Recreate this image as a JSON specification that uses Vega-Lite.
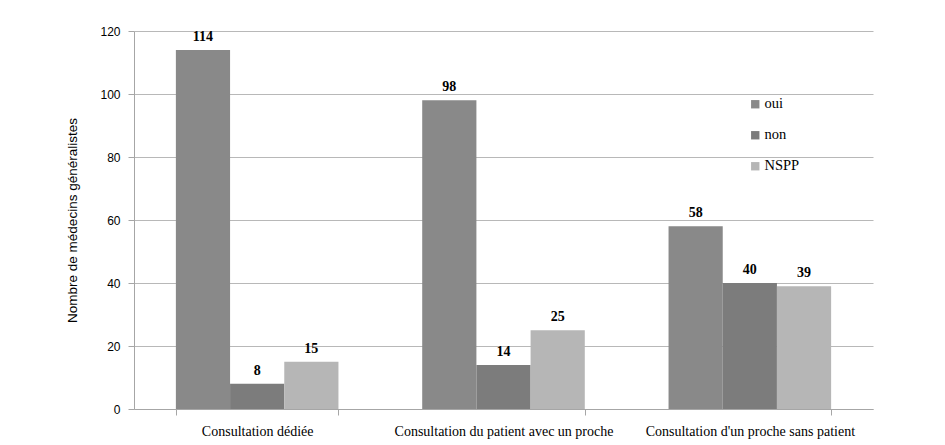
{
  "$schema": "https://vega.github.io/schema/vega-lite/v6.json",
  "width": 739,
  "height": 378,
  "autosize": {"type": "none"},
  "padding": {"left": 134, "top": 31, "right": 72, "bottom": 36},
  "background": "white",
  "config": {"view": {"stroke": null}},
  "data": {
    "values": [
      {"type": "Consultation dédiée", "reponse": "oui", "n": 114},
      {"type": "Consultation dédiée", "reponse": "non", "n": 8},
      {"type": "Consultation dédiée", "reponse": "NSPP", "n": 15},
      {"type": "Consultation du patient avec un proche", "reponse": "oui", "n": 98},
      {"type": "Consultation du patient avec un proche", "reponse": "non", "n": 14},
      {"type": "Consultation du patient avec un proche", "reponse": "NSPP", "n": 25},
      {"type": "Consultation d'un proche sans patient", "reponse": "oui", "n": 58},
      {"type": "Consultation d'un proche sans patient", "reponse": "non", "n": 40},
      {"type": "Consultation d'un proche sans patient", "reponse": "NSPP", "n": 39}
    ]
  },
  "encoding": {
    "x": {
      "field": "type", "type": "nominal", "sort": null,
      "scale": {"paddingInner": 0.34, "paddingOuter": 0.17},
      "axis": {
        "title": null, "labelAngle": 0, "tickBand": "extent",
        "domainColor": "#a6a6a6", "tickColor": "#a6a6a6", "tickSize": 6,
        "labelFont": "Liberation Serif", "labelFontSize": 14, "labelColor": "#000000",
        "labelPadding": 9, "labelLimit": 400, "grid": false
      }
    },
    "xOffset": {"field": "reponse", "type": "nominal", "sort": ["oui", "non", "NSPP"], "scale": {"paddingInner": 0, "paddingOuter": 0}},
    "y": {
      "field": "n", "type": "quantitative",
      "scale": {"domain": [0, 120]},
      "axis": {
        "values": [0, 20, 40, 60, 80, 100, 120],
        "title": "Nombre de médecins généralistes",
        "titleFont": "Liberation Sans", "titleFontSize": 13.5, "titleFontWeight": "normal", "titleColor": "#000000",
        "titlePadding": 20,
        "labelFont": "Liberation Sans", "labelFontSize": 12, "labelColor": "#000000", "labelPadding": 8,
        "domainColor": "#a6a6a6", "tickColor": "#a6a6a6", "tickSize": 6,
        "gridColor": "#b8b8b8", "gridWidth": 1
      }
    }
  },
  "layer": [
    {
      "mark": {"type": "bar"},
      "encoding": {
        "color": {
          "field": "reponse", "type": "nominal", "sort": ["oui", "non", "NSPP"],
          "scale": {"domain": ["oui", "non", "NSPP"], "range": ["#898989", "#7c7c7c", "#b6b6b6"]},
          "legend": {
            "title": null, "orient": "none", "legendX": 614, "legendY": 66,
            "symbolType": "square", "symbolSize": 70, "symbolStrokeWidth": 0,
            "labelFont": "Liberation Serif", "labelFontSize": 14.5, "labelColor": "#000000",
            "rowPadding": 16, "labelOffset": 2
          }
        }
      }
    },
    {
      "mark": {"type": "text", "baseline": "bottom", "dy": -6, "font": "Liberation Serif", "fontSize": 14, "fontWeight": "bold", "color": "#000000"},
      "encoding": {"text": {"field": "n", "type": "quantitative"}}
    }
  ]
}
